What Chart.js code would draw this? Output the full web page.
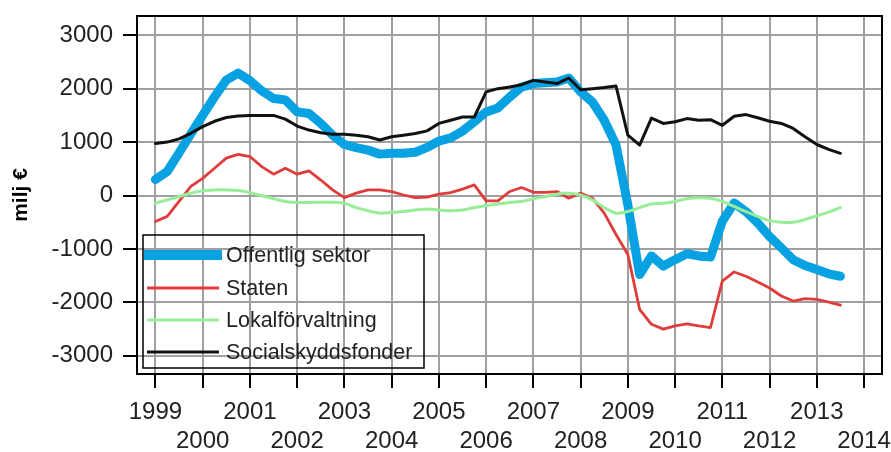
<!DOCTYPE html>
<html>
<head>
<meta charset="utf-8">
<script src="https://cdn.jsdelivr.net/npm/chart.js@4.4.1/dist/chart.umd.min.js"></script>
<style>
  body { margin: 0; background: #fff; }
  #wrap { width: 891px; height: 452px; }
</style>
</head>
<body>
<div id="wrap"><canvas id="grafik" width="891" height="452"></canvas></div>
<script>
// kvartal 1999K1 - 2013K3
const kvartal = [
  '1999K1','1999K2','1999K3','1999K4','2000K1','2000K2','2000K3','2000K4',
  '2001K1','2001K2','2001K3','2001K4','2002K1','2002K2','2002K3','2002K4',
  '2003K1','2003K2','2003K3','2003K4','2004K1','2004K2','2004K3','2004K4',
  '2005K1','2005K2','2005K3','2005K4','2006K1','2006K2','2006K3','2006K4',
  '2007K1','2007K2','2007K3','2007K4','2008K1','2008K2','2008K3','2008K4',
  '2009K1','2009K2','2009K3','2009K4','2010K1','2010K2','2010K3','2010K4',
  '2011K1','2011K2','2011K3','2011K4','2012K1','2012K2','2012K3','2012K4',
  '2013K1','2013K2','2013K3'
];

const offentligSektor = [
  300, 450, 800, 1155, 1500, 1845, 2160, 2290, 2150, 1960,
  1815, 1790, 1565, 1535, 1350, 1130, 955, 895, 850, 775,
  790, 790, 810, 900, 1020, 1080, 1205, 1380, 1565, 1640,
  1845, 2030, 2095, 2110, 2125, 2200, 1940, 1750, 1410, 945,
  -175, -1480, -1130, -1320, -1200, -1090, -1130, -1150, -480, -140,
  -300, -515, -765, -980, -1200, -1310, -1385, -1465, -1510
];
const staten = [
  -485, -390, -110, 170, 320, 510, 700, 770, 730, 540,
  400, 510, 400, 460, 290, 105, -40, 45, 105, 105,
  75, 10, -40, -30, 25, 55, 120, 200, -100, -100,
  75, 150, 60, 60, 75, -50, 45, -50, -330, -730,
  -1105, -2130, -2410, -2500, -2440, -2400, -2440, -2470, -1600, -1430,
  -1510, -1620, -1730, -1880, -1975, -1930, -1945, -1995, -2050
];
const lokalforvaltning = [
  -145, -80, -20, 45, 90, 105, 105, 95, 55, -5,
  -60, -110, -130, -130, -125, -125, -145, -225, -285, -330,
  -315, -300, -270, -250, -270, -285, -270, -225, -190, -160,
  -130, -110, -60, -20, 25, 45, 10, -80, -225, -330,
  -300, -225, -160, -145, -110, -60, -40, -50, -110, -205,
  -300, -390, -470, -500, -500, -450, -380, -310, -225
];
const socialskydd = [
  975, 1000, 1060, 1165, 1290, 1390, 1460, 1490, 1500, 1500,
  1500, 1430, 1300, 1225, 1175, 1145, 1145, 1130, 1100, 1040,
  1100, 1130, 1160, 1210, 1350, 1410, 1470, 1470, 1940, 2000,
  2030, 2075, 2155, 2125, 2095, 2200, 1980, 2000, 2020, 2050,
  1130, 945, 1450, 1350, 1380, 1440, 1410, 1420, 1315, 1485,
  1515, 1455, 1390, 1350, 1255, 1100, 955, 865, 790
];

const arTicks = [1999, 2000, 2001, 2002, 2003, 2004, 2005, 2006, 2007, 2008, 2009, 2010, 2011, 2012, 2013, 2014];
const yTicks = [-3000, -2000, -1000, 0, 1000, 2000, 3000];

const FONT = '"Liberation Sans", Arial, sans-serif';

// "1999K3" -> 1999.5
function tillAr(k){
  return Number(k.slice(0, 4)) + (Number(k.slice(5)) - 1) / 4;
}
function punkter(serie){
  return serie.map((v, i) => ({ x: tillAr(kvartal[i]), y: v }));
}

const ram = {
  id: 'ram',
  afterDraw(chart){
    const { ctx, chartArea: a } = chart;
    ctx.save();
    ctx.strokeStyle = '#000';
    ctx.lineWidth = 2;
    ctx.strokeRect(a.left, a.top, a.right - a.left, a.bottom - a.top);

    // legend inside the plot
    ctx.lineWidth = 1.5;
    ctx.strokeRect(143, 235, 281, 133);
    ctx.font = '21.5px ' + FONT;
    ctx.fillStyle = '#222';
    ctx.textBaseline = 'middle';
    const rader = [255, 288, 320, 352];
    chart.data.datasets.forEach((d, i) => {
      const y = rader[i];
      ctx.strokeStyle = d.borderColor;
      ctx.lineWidth = i === 0 ? 10 : 3;
      ctx.lineCap = 'butt';
      ctx.beginPath();
      ctx.moveTo(i === 0 ? 144 : 147, y);
      ctx.lineTo(i === 0 ? 222 : 219, y);
      ctx.stroke();
      ctx.fillText(d.label, 226, y + 1);
    });
    ctx.restore();
  }
};

new Chart(document.getElementById('grafik'), {
  type: 'line',
  data: {
    datasets: [
      { label: 'Offentlig sektor', data: punkter(offentligSektor), borderColor: '#08a2e2', borderWidth: 9, order: 4 },
      { label: 'Staten', data: punkter(staten), borderColor: '#e03c3c', borderWidth: 2.8, order: 3 },
      { label: 'Lokalförvaltning', data: punkter(lokalforvaltning), borderColor: '#98ee98', borderWidth: 3, order: 2, tension: 0.3 },
      { label: 'Socialskyddsfonder', data: punkter(socialskydd), borderColor: '#111', borderWidth: 3, order: 1 }
    ]
  },
  options: {
    responsive: false,
    animation: false,
    layout: { padding: { top: 16, right: 9, left: 0, bottom: 0 } },
    plugins: { legend: { display: false }, tooltip: { enabled: false } },
    elements: {
      point: { radius: 0 },
      line: { borderCapStyle: 'round', borderJoinStyle: 'round', fill: false }
    },
    scales: {
      x: {
        type: 'linear',
        min: 1998.61,
        max: 2014.38,
        afterBuildTicks: s => { s.ticks = arTicks.map(v => ({ value: v })); },
        afterFit: s => { s.height = 78; s.paddingLeft = 0; s.paddingRight = 0; },
        border: { display: false },
        grid: { color: '#a0a0a0', lineWidth: 2, tickLength: 14, tickColor: '#000', tickWidth: 2 },
        ticks: {
          color: '#222',
          font: { size: 24, family: FONT },
          padding: 10,
          autoSkip: false,
          maxRotation: 0,
          minRotation: 0,
          callback: v => (v % 2 === 1 ? [String(v)] : ['', String(v)])
        }
      },
      y: {
        min: -3340,
        max: 3360,
        afterBuildTicks: s => { s.ticks = yTicks.map(v => ({ value: v })); },
        afterFit: s => { s.width = 137; s.paddingTop = 0; s.paddingBottom = 0; },
        border: { display: false },
        grid: { color: '#a0a0a0', lineWidth: 2, tickLength: 14, tickColor: '#000', tickWidth: 2 },
        ticks: {
          color: '#222',
          font: { size: 24, family: FONT },
          padding: 10,
          callback: v => String(v)
        },
        title: {
          display: true,
          text: 'milj €',
          color: '#000',
          font: { size: 21, weight: 'bold', family: FONT },
          padding: { top: 9, bottom: 0 }
        }
      }
    }
  },
  plugins: [ram]
});
</script>
</body>
</html>
